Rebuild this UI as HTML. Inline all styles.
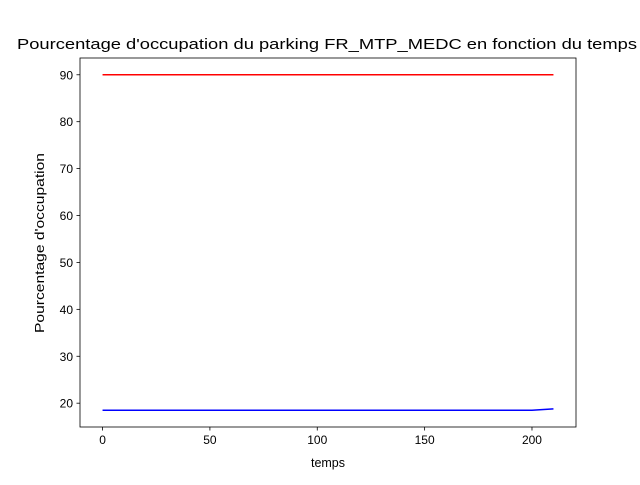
<!DOCTYPE html>
<html><head><meta charset="utf-8"><style>
body{margin:0;background:#fff;}
svg text{font-family:"Liberation Sans","DejaVu Sans",sans-serif;}
</style></head><body>
<svg id="chart" width="640" height="480" xmlns="http://www.w3.org/2000/svg">
<rect width="640" height="480" fill="#fff"/>
<text x="327" y="49" font-size="14.5" text-anchor="middle" textLength="620" lengthAdjust="spacingAndGlyphs">Pourcentage d'occupation du parking FR_MTP_MEDC en fonction du temps</text>
<g id="plot"></g>
<rect x="80" y="58" width="496" height="369" fill="none" stroke="#000" stroke-width="0.8"/>
<text x="328" y="467" font-size="12.5" text-anchor="middle">temps</text>
<text transform="translate(44,243) rotate(-90)" font-size="12.5" text-anchor="middle" textLength="180" lengthAdjust="spacingAndGlyphs">Pourcentage d'occupation</text>
</svg>
<script>
const times=[0,10,20,30,40,50,60,70,80,90,100,110,120,130,140,150,160,170,180,190,200,210];
const occupation=[18.5,18.5,18.5,18.5,18.5,18.5,18.5,18.5,18.5,18.5,18.5,18.5,18.5,18.5,18.5,18.5,18.5,18.5,18.5,18.5,18.5,18.8];
const capacityLine=[90,90,90,90,90,90,90,90,90,90,90,90,90,90,90,90,90,90,90,90,90,90];
const xTicks=[0,50,100,150,200];
const yTicks=[20,30,40,50,60,70,80,90];
const NS="http://www.w3.org/2000/svg";
const g=document.getElementById('plot');
const X0=80,X1=576,Y0=427,Y1=58;
const allY=occupation.concat(capacityLine);
const xmin=Math.min(...times),xmax=Math.max(...times),ymin=Math.min(...allY),ymax=Math.max(...allY);
const xl=xmin-(xmax-xmin)*0.05,xh=xmax+(xmax-xmin)*0.05;
const yl=ymin-(ymax-ymin)*0.05,yh=ymax+(ymax-ymin)*0.05;
const sx=v=>X0+(v-xl)/(xh-xl)*(X1-X0);
const sy=v=>Y0-(v-yl)/(yh-yl)*(Y0-Y1);
function mk(t,a){const e=document.createElementNS(NS,t);for(const k in a)e.setAttribute(k,a[k]);g.appendChild(e);return e;}
xTicks.forEach(t=>{
 const l=mk('line',{x1:sx(t),x2:sx(t),y1:Y0,y2:Y0+3.5,stroke:'#000','stroke-width':0.8});
 
 
 const tx=mk('text',{x:sx(t),y:Y0+17,'font-size':12,'text-anchor':'middle'});tx.textContent=t;
 
 
});
yTicks.forEach(t=>{
 const l=mk('line',{x1:X0-3.5,x2:X0,y1:sy(t),y2:sy(t),stroke:'#000','stroke-width':0.8});
 
 
 const tx=mk('text',{x:X0-7,y:sy(t)+4.5,'font-size':12,'text-anchor':'end'});tx.textContent=t;
 
 
});
function line(vals,color,name){
 const p=mk('polyline',{points:times.map((t,i)=>sx(t)+','+sy(vals[i])).join(' '),fill:'none',stroke:color,'stroke-width':1.5});
 
 
}
line(capacityLine,'#ff0000','capacity-line');
line(occupation,'#0000ff','occupation-line');
</script>
</body></html>
